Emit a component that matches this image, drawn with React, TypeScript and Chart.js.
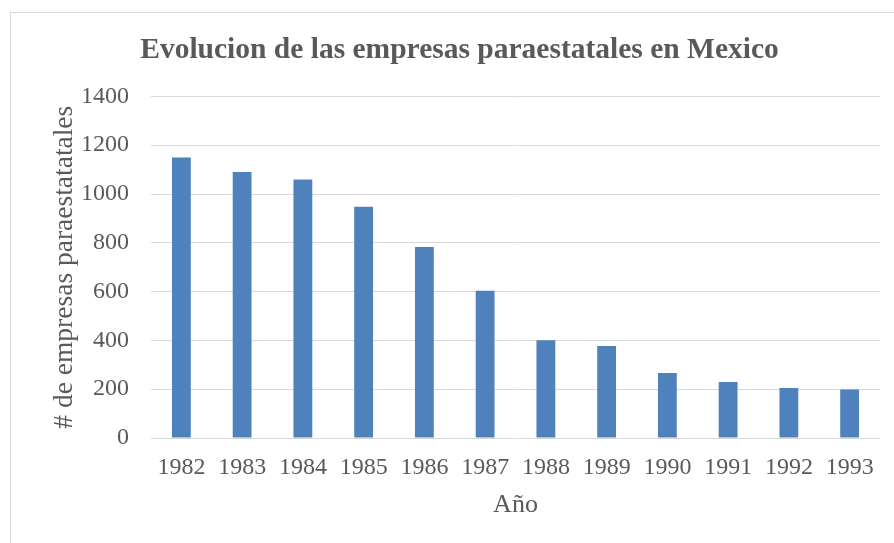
import React, { useEffect, useRef } from "react";
import { Chart, registerables } from "chart.js";

Chart.register(...registerables);

const years = ["1982", "1983", "1984", "1985", "1986", "1987", "1988", "1989", "1990", "1991", "1992", "1993"];
const empresas = [1150, 1090, 1059, 948, 783, 603, 401, 377, 266, 229, 205, 199];
const yTicks = [0, 200, 400, 600, 800, 1000, 1200, 1400];
const titleText = "Evolucion de las empresas paraestatales en Mexico";
const yTitle = "# de empresas paraestatatales";
const xTitle = "Año";

const FONT = "'Liberation Serif', 'Times New Roman', serif";
const TEXT = "#595959";
const GRID = "#d9d9d9";
const BAR = "#4f81bd";

const borderPlugin = {
  id: "outerBorder",
  beforeDraw(chart: any) {
    const ctx = chart.ctx;
    ctx.save();
    ctx.fillStyle = "#ffffff";
    ctx.fillRect(0, 0, chart.width, chart.height);
    ctx.strokeStyle = GRID;
    ctx.lineWidth = 1;
    ctx.strokeRect(10.5, 12.5, chart.width + 20, chart.height + 20);
    ctx.restore();
  },
};

export default function App() {
  const ref = useRef<HTMLCanvasElement | null>(null);
  useEffect(() => {
    if (!ref.current) return;
    const chart = new Chart(ref.current, {
      type: "bar",
      data: {
        labels: years,
        datasets: [
          {
            label: "Empresas",
            data: empresas,
            backgroundColor: BAR,
            borderWidth: 0,
            barPercentage: 0.31,
            categoryPercentage: 1,
          },
        ],
      },
      plugins: [borderPlugin],
      options: {
        animation: false,
        responsive: false,
        maintainAspectRatio: false,
        layout: { padding: { left: 39, right: 14, top: 0, bottom: 0 } },
        plugins: {
          legend: { display: false },
          tooltip: { enabled: false },
          title: {
            display: true,
            text: titleText,
            color: TEXT,
            font: { family: FONT, size: 29.5, weight: "bold", lineHeight: 1.2 },
            padding: { top: 33, bottom: 28 },
          },
        },
        scales: {
          x: {
            grid: { display: false, drawTicks: false },
            border: { display: false },
            ticks: { color: TEXT, font: { family: FONT, size: 24 }, padding: 15, maxRotation: 0, autoSkip: false },
            title: {
              display: true,
              text: xTitle,
              color: TEXT,
              font: { family: FONT, size: 26, lineHeight: 1.2 },
              padding: { top: 0, bottom: 22 },
            },
            afterFit(axis: any) {
              axis.height = 105;
            },
          },
          y: {
            min: 0,
            max: 1400,
            afterBuildTicks(axis: any) {
              axis.ticks = yTicks.map((v) => ({ value: v }));
            },
            ticks: {
              color: TEXT,
              font: { family: FONT, size: 24 },
              padding: 22,
              callback: (v: any) => String(v),
            },
            grid: { color: GRID, drawTicks: false, lineWidth: 1 },
            border: { display: false },
            title: {
              display: true,
              text: yTitle,
              color: TEXT,
              font: { family: FONT, size: 27.5, lineHeight: 1.2 },
              padding: { top: 9, bottom: 0 },
            },
            afterFit(axis: any) {
              axis.width = 112;
            },
          },
        },
      },
    });
    return () => chart.destroy();
  }, []);
  return (
    <div style={{ position: "fixed", left: 0, top: 0, width: 894, height: 543, background: "#fff" }}>
      <canvas ref={ref} width={894} height={543} style={{ display: "block", width: 894, height: 543 }} />
    </div>
  );
}
